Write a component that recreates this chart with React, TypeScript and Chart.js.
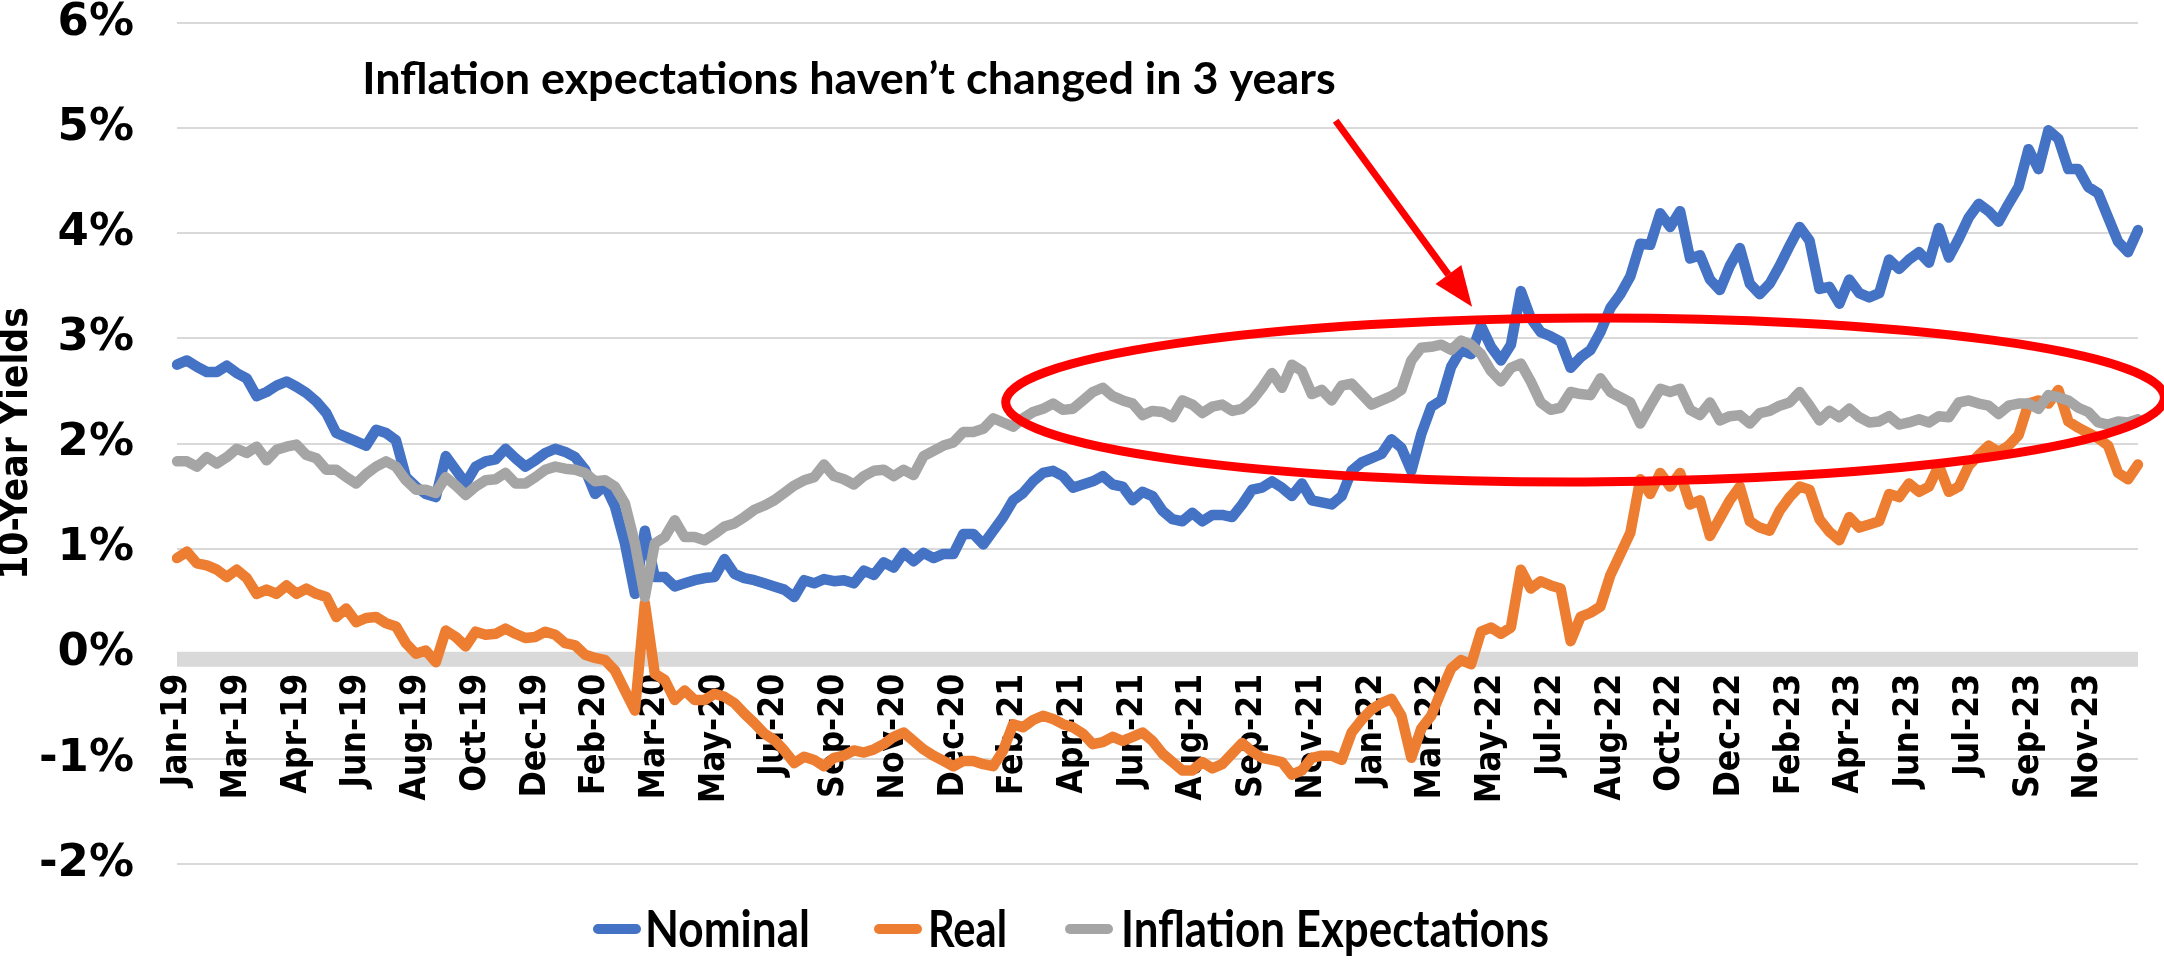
import React, { useEffect, useRef } from "react";
import { Chart, registerables } from "chart.js";

Chart.register(...registerables);

// ---------- DATA ----------
const tickLabels = [
  "Jan-19", "Mar-19", "Apr-19", "Jun-19", "Aug-19", "Oct-19", "Dec-19", "Feb-20", "Mar-20",
  "May-20", "Jul-20", "Sep-20", "Nov-20", "Dec-20", "Feb-21", "Apr-21", "Jun-21", "Aug-21",
  "Sep-21", "Nov-21", "Jan-22", "Mar-22", "May-22", "Jul-22", "Aug-22", "Oct-22", "Dec-22",
  "Feb-23", "Apr-23", "Jun-23", "Jul-23", "Sep-23", "Nov-23",
];
const LABEL_EVERY = 6; // one tick label every 6 observations

const nominal = [
  2.75, 2.79, 2.73, 2.68, 2.68, 2.74, 2.67, 2.62, 2.45, 2.49, 2.55, 2.59, 2.54, 2.48, 2.40, 2.29, 2.10, 2.06, 2.02, 1.98,
  2.13, 2.10, 2.03, 1.68, 1.59, 1.52, 1.49, 1.88, 1.75, 1.62, 1.78, 1.83, 1.85, 1.95, 1.86, 1.78, 1.84, 1.91, 1.95, 1.92,
  1.87, 1.75, 1.52, 1.60, 1.40, 1.05, 0.57, 1.17, 0.73, 0.73, 0.64, 0.67, 0.70, 0.72, 0.73, 0.90, 0.76, 0.72, 0.70, 0.67,
  0.64, 0.61, 0.54, 0.70, 0.67, 0.71, 0.69, 0.70, 0.67, 0.79, 0.75, 0.87, 0.82, 0.96, 0.88, 0.96, 0.91, 0.95, 0.95, 1.14,
  1.14, 1.04, 1.17, 1.30, 1.46, 1.53, 1.64, 1.72, 1.74, 1.69, 1.58, 1.61, 1.64, 1.69, 1.61, 1.59, 1.46, 1.54, 1.50, 1.36,
  1.28, 1.26, 1.34, 1.26, 1.32, 1.32, 1.30, 1.42, 1.56, 1.58, 1.64, 1.58, 1.50, 1.62, 1.46, 1.44, 1.42, 1.50, 1.74, 1.82,
  1.86, 1.90, 2.04, 1.96, 1.74, 2.09, 2.35, 2.41, 2.73, 2.89, 2.85, 3.12, 2.92, 2.79, 2.94, 3.45, 3.19, 3.06, 3.02, 2.97,
  2.72, 2.82, 2.89, 3.06, 3.29, 3.42, 3.59, 3.90, 3.89, 4.19, 4.06, 4.21, 3.76, 3.79, 3.56, 3.46, 3.69, 3.86, 3.52, 3.42,
  3.52, 3.69, 3.88, 4.06, 3.93, 3.47, 3.49, 3.33, 3.56, 3.43, 3.39, 3.43, 3.75, 3.66, 3.75, 3.82, 3.72, 4.05, 3.77, 3.95,
  4.15, 4.28, 4.21, 4.11, 4.28, 4.44, 4.80, 4.61, 4.98, 4.90, 4.61, 4.61, 4.44, 4.38, 4.15, 3.92, 3.82, 4.03,
];

const real = [
  0.91, 0.97, 0.86, 0.84, 0.80, 0.73, 0.80, 0.72, 0.57, 0.61, 0.57, 0.65, 0.57, 0.62, 0.57, 0.54, 0.35, 0.43, 0.30, 0.34,
  0.35, 0.29, 0.26, 0.10, 0.00, 0.03, -0.08, 0.22, 0.16, 0.07, 0.21, 0.18, 0.19, 0.24, 0.19, 0.15, 0.16, 0.21, 0.18, 0.10,
  0.08, -0.01, -0.04, -0.06, -0.16, -0.35, -0.54, 0.48, -0.19, -0.25, -0.44, -0.35, -0.44, -0.44, -0.38, -0.41, -0.47, -0.57, -0.66, -0.76,
  -0.82, -0.92, -1.04, -0.98, -1.01, -1.07, -0.99, -0.97, -0.92, -0.94, -0.91, -0.86, -0.79, -0.75, -0.83, -0.91, -0.97, -1.02, -1.07, -1.02,
  -1.02, -1.05, -1.07, -0.92, -0.67, -0.70, -0.63, -0.59, -0.62, -0.67, -0.70, -0.76, -0.86, -0.84, -0.79, -0.83, -0.79, -0.75, -0.83, -0.95,
  -1.03, -1.11, -1.11, -1.03, -1.09, -1.05, -0.95, -0.85, -0.93, -0.99, -1.01, -1.03, -1.15, -1.11, -0.99, -0.97, -0.97, -1.01, -0.75, -0.63,
  -0.53, -0.47, -0.43, -0.59, -0.99, -0.71, -0.59, -0.36, -0.14, -0.06, -0.10, 0.21, 0.25, 0.19, 0.25, 0.80, 0.62, 0.69, 0.65, 0.62,
  0.12, 0.35, 0.39, 0.45, 0.75, 0.95, 1.15, 1.66, 1.52, 1.72, 1.59, 1.72, 1.42, 1.46, 1.12, 1.29, 1.46, 1.59, 1.26, 1.20,
  1.17, 1.36, 1.49, 1.59, 1.56, 1.28, 1.16, 1.08, 1.30, 1.20, 1.23, 1.26, 1.52, 1.49, 1.62, 1.54, 1.59, 1.79, 1.54, 1.59,
  1.79, 1.89, 1.98, 1.92, 1.98, 2.08, 2.38, 2.41, 2.38, 2.51, 2.21, 2.15, 2.10, 2.05, 1.98, 1.72, 1.66, 1.80,
];

const inflation = [
  1.83, 1.83, 1.78, 1.87, 1.81, 1.87, 1.95, 1.91, 1.97, 1.84, 1.94, 1.97, 1.99, 1.89, 1.86, 1.75, 1.75, 1.68, 1.62, 1.71,
  1.78, 1.83, 1.78, 1.65, 1.56, 1.56, 1.53, 1.68, 1.60, 1.51, 1.59, 1.65, 1.66, 1.72, 1.62, 1.62, 1.68, 1.75, 1.78, 1.76,
  1.75, 1.72, 1.64, 1.65, 1.59, 1.43, 1.05, 0.54, 1.05, 1.11, 1.27, 1.11, 1.11, 1.08, 1.14, 1.21, 1.24, 1.30, 1.37, 1.41,
  1.46, 1.53, 1.60, 1.65, 1.68, 1.80, 1.69, 1.66, 1.61, 1.69, 1.74, 1.75, 1.69, 1.75, 1.70, 1.88, 1.93, 1.98, 2.01, 2.11,
  2.11, 2.14, 2.24, 2.20, 2.16, 2.24, 2.30, 2.33, 2.38, 2.32, 2.33, 2.41, 2.49, 2.53, 2.45, 2.41, 2.38, 2.27, 2.31, 2.30,
  2.25, 2.41, 2.37, 2.29, 2.35, 2.37, 2.31, 2.33, 2.41, 2.53, 2.67, 2.53, 2.75, 2.69, 2.47, 2.51, 2.41, 2.55, 2.57, 2.47,
  2.37, 2.41, 2.45, 2.51, 2.79, 2.91, 2.92, 2.94, 2.89, 2.98, 2.94, 2.85, 2.69, 2.59, 2.72, 2.76, 2.59, 2.39, 2.32, 2.34,
  2.49, 2.47, 2.46, 2.62, 2.49, 2.44, 2.39, 2.19, 2.36, 2.52, 2.49, 2.52, 2.32, 2.27, 2.39, 2.22, 2.26, 2.27, 2.19, 2.29,
  2.31, 2.36, 2.39, 2.49, 2.36, 2.22, 2.31, 2.25, 2.33, 2.25, 2.20, 2.21, 2.26, 2.18, 2.20, 2.23, 2.20, 2.26, 2.25, 2.39,
  2.41, 2.38, 2.36, 2.28, 2.36, 2.38, 2.38, 2.33, 2.46, 2.44, 2.41, 2.34, 2.30, 2.20, 2.18, 2.21, 2.20, 2.23,
];

const yTickValues = [-2, -1, 0, 1, 2, 3, 4, 5, 6];

const annotationText = "Inflation expectations haven\u2019t changed in 3 years";

// annotation geometry, in data units (category index, percent)
const ANN = {
  textLeft: 18.6, textRight: 116.4, textBaseline: 5.32,
  arrowFrom: [116.4, 5.07], arrowTo: [130.1, 3.3],
  ellipseCenter: [141.45, 2.414], ellipseRx: 58.2, ellipseRy: 0.78,
};

const COLORS = { nominal: "#4472C4", real: "#ED7D31", inflation: "#A5A5A5" };
const AXIS_FONT = "'DejaVu Sans', Verdana, sans-serif";
const TEXT_FONT = "Lato, 'Open Sans', sans-serif";

// pick a narrow bold face if one is installed (falls back to DejaVu Sans)
function pickNarrowFamily(): string {
  const ctx = document.createElement("canvas").getContext("2d");
  if (!ctx) return AXIS_FONT;
  const probe = "Mar-20 Jan-19 10-Year Yields";
  const candidates = ["Liberation Sans Narrow", "DejaVu Sans Condensed", "Arial Narrow"];
  for (const fam of candidates) {
    let differs = false;
    for (const base of ["monospace", "serif"]) {
      ctx.font = `bold 50px ${base}`;
      const w1 = ctx.measureText(probe).width;
      ctx.font = `bold 50px '${fam}', ${base}`;
      const w2 = ctx.measureText(probe).width;
      if (Math.abs(w1 - w2) > 0.5) differs = true;
    }
    if (differs) return `'${fam}', ${AXIS_FONT}`;
  }
  return AXIS_FONT;
}

function sizeForWidth(text: string, family: string, width: number): number {
  const ctx = document.createElement("canvas").getContext("2d");
  if (!ctx) return 32;
  ctx.font = `bold 100px ${family}`;
  const w = ctx.measureText(text).width || 1;
  return Math.round((100 * width) / w * 10) / 10;
}

function fitText(ctx: CanvasRenderingContext2D, text: string, x: number, y: number, width: number, font: string) {
  ctx.save();
  ctx.font = font;
  ctx.textAlign = "left";
  ctx.textBaseline = "alphabetic";
  const w = ctx.measureText(text).width || 1;
  ctx.translate(x, y);
  ctx.scale(width / w, 1);
  ctx.fillText(text, 0, 0);
  ctx.restore();
}

const zeroBandPlugin = {
  id: "zeroBand",
  beforeDatasetsDraw(chart: any) {
    const { ctx, chartArea, scales } = chart;
    const y0 = scales.y.getPixelForValue(0);
    ctx.save();
    ctx.fillStyle = "#D9D9D9";
    ctx.fillRect(chartArea.left, y0 - 2, chartArea.right - chartArea.left, 15);
    ctx.restore();
  },
};

const annotationPlugin = {
  id: "annotations",
  afterDatasetsDraw(chart: any) {
    const { ctx, scales } = chart;
    const px = (v: number) => scales.x.getPixelForValue(v);
    const py = (v: number) => scales.y.getPixelForValue(v);

    // ellipse
    const cx = px(ANN.ellipseCenter[0]);
    const cy = py(ANN.ellipseCenter[1]);
    const rx = px(ANN.ellipseCenter[0] + ANN.ellipseRx) - cx;
    const ry = py(ANN.ellipseCenter[1] - ANN.ellipseRy) - cy;
    ctx.save();
    ctx.strokeStyle = "#FF0000";
    ctx.lineWidth = 9;
    ctx.beginPath();
    ctx.ellipse(cx, cy, rx, ry, -0.004, 0, Math.PI * 2);
    ctx.stroke();

    // arrow
    const x1 = px(ANN.arrowFrom[0]), y1 = py(ANN.arrowFrom[1]);
    const x2 = px(ANN.arrowTo[0]), y2 = py(ANN.arrowTo[1]);
    const ang = Math.atan2(y2 - y1, x2 - x1);
    const headLen = 40, headHalf = 16;
    const bx = x2 - headLen * Math.cos(ang), by = y2 - headLen * Math.sin(ang);
    ctx.lineWidth = 7;
    ctx.lineCap = "butt";
    ctx.beginPath();
    ctx.moveTo(x1, y1);
    ctx.lineTo(bx, by);
    ctx.stroke();
    ctx.fillStyle = "#FF0000";
    ctx.beginPath();
    ctx.moveTo(x2, y2);
    ctx.lineTo(bx + headHalf * Math.sin(ang), by - headHalf * Math.cos(ang));
    ctx.lineTo(bx - headHalf * Math.sin(ang), by + headHalf * Math.cos(ang));
    ctx.closePath();
    ctx.fill();
    ctx.restore();

    // annotation text
    ctx.save();
    ctx.fillStyle = "#000";
    const tl = px(ANN.textLeft), tr = px(ANN.textRight);
    fitText(ctx, annotationText, tl, py(ANN.textBaseline), tr - tl, `bold 44px ${TEXT_FONT}`);
    ctx.restore();
  },
};

// legend drawn below the plot (positions in canvas pixels)
const LEGEND = { y: 929, baseline: 947, sampleStart: [593, 874, 1065], sampleLen: 48, textStart: [645, 928, 1121], textWidth: [165, 79, 428] };

const legendPlugin = {
  id: "customLegend",
  afterDraw(chart: any) {
    const { ctx } = chart;
    chart.data.datasets.forEach((ds: any, i: number) => {
      ctx.save();
      ctx.strokeStyle = ds.borderColor;
      ctx.lineWidth = 10;
      ctx.lineCap = "round";
      ctx.beginPath();
      ctx.moveTo(LEGEND.sampleStart[i] + 5, LEGEND.y);
      ctx.lineTo(LEGEND.sampleStart[i] + LEGEND.sampleLen - 5, LEGEND.y);
      ctx.stroke();
      ctx.fillStyle = "#000";
      fitText(ctx, ds.label, LEGEND.textStart[i], LEGEND.baseline, LEGEND.textWidth[i], `bold 51px ${TEXT_FONT}`);
      ctx.restore();
    });
  },
};

export default function App() {
  const canvasRef = useRef<HTMLCanvasElement | null>(null);

  useEffect(() => {
    document.body.style.margin = "0";
    document.body.style.overflow = "hidden";
    const canvas = canvasRef.current;
    if (!canvas) return;

    const categories = nominal.map((_, i) => String(i));
    const narrow = pickNarrowFamily();
    const xTickSize = sizeForWidth("Jan-19", narrow, 113);
    const titleSize = sizeForWidth("10-Year Yields", narrow, 273);

    const chart = new Chart(canvas, {
      type: "line",
      data: {
        labels: categories,
        datasets: [
          { label: "Nominal", data: nominal, borderColor: COLORS.nominal, backgroundColor: COLORS.nominal, order: 3 },
          { label: "Real", data: real, borderColor: COLORS.real, backgroundColor: COLORS.real, order: 2 },
          { label: "Inflation Expectations", data: inflation, borderColor: COLORS.inflation, backgroundColor: COLORS.inflation, order: 1 },
        ].map((d) => ({
          ...d,
          borderWidth: 10.5,
          pointRadius: 0,
          pointHoverRadius: 0,
          tension: 0,
          fill: false,
          borderJoinStyle: "round" as const,
          borderCapStyle: "round" as const,
        })),
      },
      options: {
        responsive: false,
        animation: false,
        events: [],
        layout: { padding: { top: 23, right: 26, bottom: 102, left: 0 } },
        plugins: {
          legend: { display: false },
          tooltip: { enabled: false },
        },
        scales: {
          x: {
            type: "category",
            offset: false,
            position: { y: 0 } as any,
            grid: { display: false, drawTicks: false },
            border: { display: false },
            ticks: {
              autoSkip: false,
              minRotation: 90,
              maxRotation: 90,
              padding: 20,
              color: "#000",
              font: { family: narrow, weight: "bold", size: xTickSize },
              callback: (_v: any, i: number) =>
                i % LABEL_EVERY === 0 && tickLabels[i / LABEL_EVERY] ? tickLabels[i / LABEL_EVERY] : "",
            },
            afterFit: (s: any) => {
              s.paddingLeft = 0;
              s.paddingRight = 0;
            },
          },
          y: {
            type: "linear",
            min: yTickValues[0],
            max: yTickValues[yTickValues.length - 1],
            afterBuildTicks: (s: any) => {
              s.ticks = yTickValues.map((v) => ({ value: v }));
            },
            grid: { color: "#D9D9D9", lineWidth: 2, drawTicks: false },
            border: { display: false },
            ticks: {
              padding: 43,
              color: "#000",
              font: { family: AXIS_FONT, weight: "bold", size: 45, lineHeight: 1 },
              callback: (v: any) => `${v}%`,
            },
            title: {
              display: true,
              text: "10-Year Yields",
              color: "#000",
              padding: { top: 0, bottom: 0 },
              font: { family: narrow, weight: "bold", size: titleSize, lineHeight: 0.9 },
            },
            afterFit: (s: any) => {
              s.width = 177;
              s.paddingTop = 0;
              s.paddingBottom = 0;
            },
          },
        },
      },
      plugins: [zeroBandPlugin, annotationPlugin, legendPlugin],
    });

    return () => chart.destroy();
  }, []);

  return (
    <canvas
      ref={canvasRef}
      width={2164}
      height={966}
      style={{ display: "block", width: "2164px", height: "966px" }}
    />
  );
}
